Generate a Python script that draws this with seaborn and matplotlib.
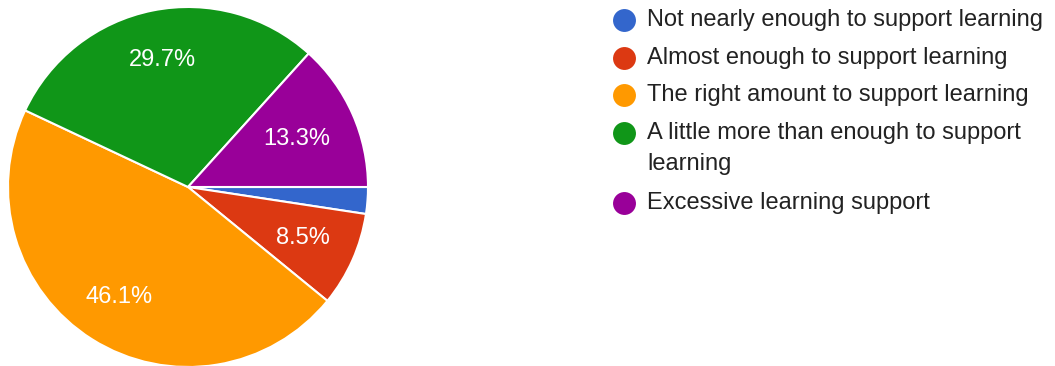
import matplotlib
matplotlib.use("Agg")
import matplotlib.pyplot as plt
import numpy as np
import seaborn as sns

categories = [
    "Not nearly enough to support learning",
    "Almost enough to support learning",
    "The right amount to support learning",
    "A little more than enough to support\nlearning",
    "Excessive learning support",
]
values = [2.4, 8.5, 46.1, 29.7, 13.3]
colors = ["#3366cc", "#dc3912", "#ff9900", "#109618", "#990099"]
label_dist = [0.72, 0.70, 0.72, 0.72, 0.66]

sns.set_theme(style="white")
plt.rcParams["font.family"] = ["Liberation Sans", "DejaVu Sans"]

W, H = 1055, 366
fig = plt.figure(figsize=(W / 100, H / 100), dpi=100)
fig.patch.set_facecolor("white")

# Pie axes
cx, cy, r = 188, 187, 180
ax = fig.add_axes([(cx - r) / W, (H - cy - r) / H, 2 * r / W, 2 * r / H])


def fmt(p):
    return f"{p:.1f}%" if p >= 5 else ""


wedges, texts, autotexts = ax.pie(
    values,
    colors=colors,
    startangle=0,
    counterclock=False,
    autopct=fmt,
    pctdistance=0.72,
    radius=1.0,
    wedgeprops=dict(edgecolor="white", linewidth=1.5),
    textprops=dict(color="white", fontsize=17),
)
for w, t, d in zip(wedges, autotexts, label_dist):
    ang = np.deg2rad((w.theta1 + w.theta2) / 2)
    t.set_position((d * np.cos(ang), d * np.sin(ang)))

ax.set_xlim(-1, 1)
ax.set_ylim(-1, 1)
ax.set_aspect("equal")
ax.axis("off")

# Legend drawn in a pixel-coordinate overlay axes
lax = fig.add_axes([0, 0, 1, 1])
lax.set_xlim(0, W)
lax.set_ylim(H, 0)
lax.axis("off")

y = 20.0
for lab, col in zip(categories, colors):
    lax.plot([624], [y], marker="o", markersize=16.5, color=col,
             markeredgewidth=0, linestyle="none")
    lines = lab.split("\n")
    for j, line in enumerate(lines):
        lax.text(647, y + j * 30.5, line, va="center", ha="left",
                 fontsize=17, color="#222222")
    y += 37.7 + 32 * (len(lines) - 1)

fig.savefig("out.png", dpi=100, facecolor="white")
